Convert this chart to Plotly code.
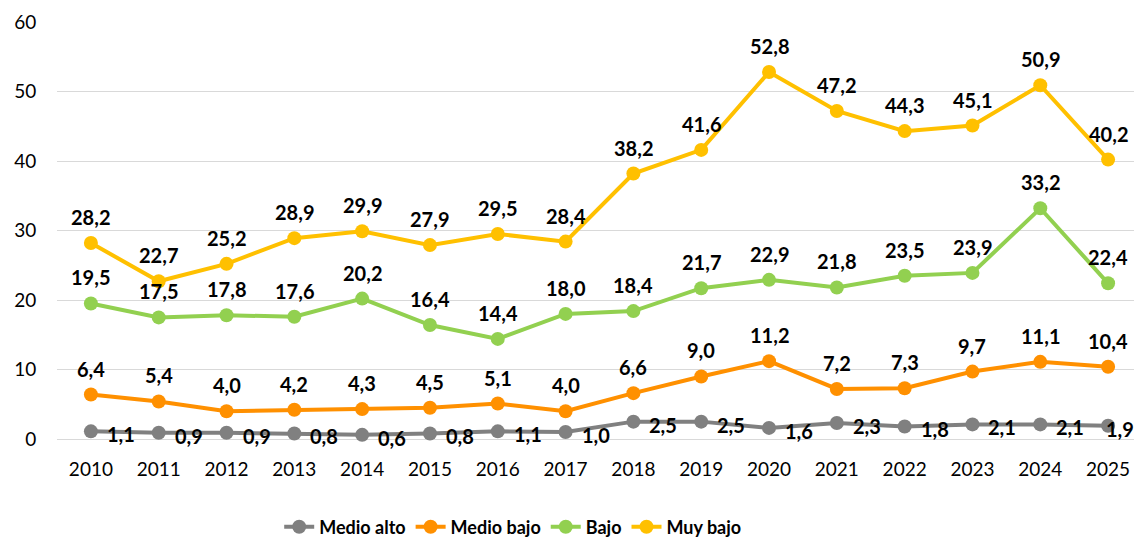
import plotly.graph_objects as go

years = [str(y) for y in range(2010, 2026)]
medio_alto = [1.1, 0.9, 0.9, 0.8, 0.6, 0.8, 1.1, 1.0, 2.5, 2.5, 1.6, 2.3, 1.8, 2.1, 2.1, 1.9]
medio_bajo = [6.4, 5.4, 4.0, 4.2, 4.3, 4.5, 5.1, 4.0, 6.6, 9.0, 11.2, 7.2, 7.3, 9.7, 11.1, 10.4]
bajo = [19.5, 17.5, 17.8, 17.6, 20.2, 16.4, 14.4, 18.0, 18.4, 21.7, 22.9, 21.8, 23.5, 23.9, 33.2, 22.4]
muy_bajo = [28.2, 22.7, 25.2, 28.9, 29.9, 27.9, 29.5, 28.4, 38.2, 41.6, 52.8, 47.2, 44.3, 45.1, 50.9, 40.2]

series = [
    ("Medio alto", medio_alto, "#808080", "right"),
    ("Medio bajo", medio_bajo, "#FF9000", "top"),
    ("Bajo", bajo, "#92D050", "top"),
    ("Muy bajo", muy_bajo, "#FFC000", "top"),
]

FONT = "Lato, 'Open Sans', sans-serif"

def fmt(v):
    return f"{v:.1f}".replace(".", ",")

fig = go.Figure()
annotations = []
for name, vals, color, pos in series:
    fig.add_trace(go.Scatter(
        x=years, y=vals, name="<b>" + name + "</b>", mode="lines+markers",
        line=dict(color=color, width=4),
        marker=dict(color=color, size=14),
        cliponaxis=False,
    ))
    for i, v in enumerate(vals):
        if pos == "top":
            annotations.append(dict(
                x=i, y=v, xref="x", yref="y", text="<b>" + fmt(v) + "</b>",
                showarrow=False, xanchor="center", yanchor="middle", yshift=26,
                font=dict(family=FONT, size=20, color="#000000"),
            ))
        else:
            last = i == len(vals) - 1
            annotations.append(dict(
                x=i, y=v, xref="x", yref="y", text="<b>" + fmt(v) + "</b>",
                showarrow=False, xanchor="left", yanchor="middle",
                xshift=-4 if last else 14, yshift=-3,
                font=dict(family=FONT, size=20, color="#000000"),
            ))

fig.update_layout(
    width=1134, height=539,
    margin=dict(l=49, r=0, t=14, b=108),
    paper_bgcolor="white", plot_bgcolor="white",
    font=dict(family=FONT, size=19, color="#000000"),
    showlegend=True,
    annotations=annotations,
    legend=dict(
        orientation="h", x=0.42, xanchor="center", y=-0.211, yanchor="middle",
        font=dict(family=FONT, size=18, color="#000000"),
        itemwidth=30, tracegroupgap=0,
    ),
    xaxis=dict(
        type="category", range=[-0.5, 15.5], showgrid=False, showline=False,
        ticks="outside", ticklen=13, tickcolor="rgba(0,0,0,0)",
        tickfont=dict(family=FONT, size=19), automargin=False,
    ),
    yaxis=dict(
        range=[0, 60], dtick=10, showgrid=True, gridcolor="#D9D9D9", gridwidth=1,
        zeroline=True, zerolinecolor="#D9D9D9", zerolinewidth=1,
        ticks="outside", ticklen=16, tickcolor="rgba(0,0,0,0)",
        tickfont=dict(family=FONT, size=19), automargin=False,
    ),
)

fig.write_html("out.html")
